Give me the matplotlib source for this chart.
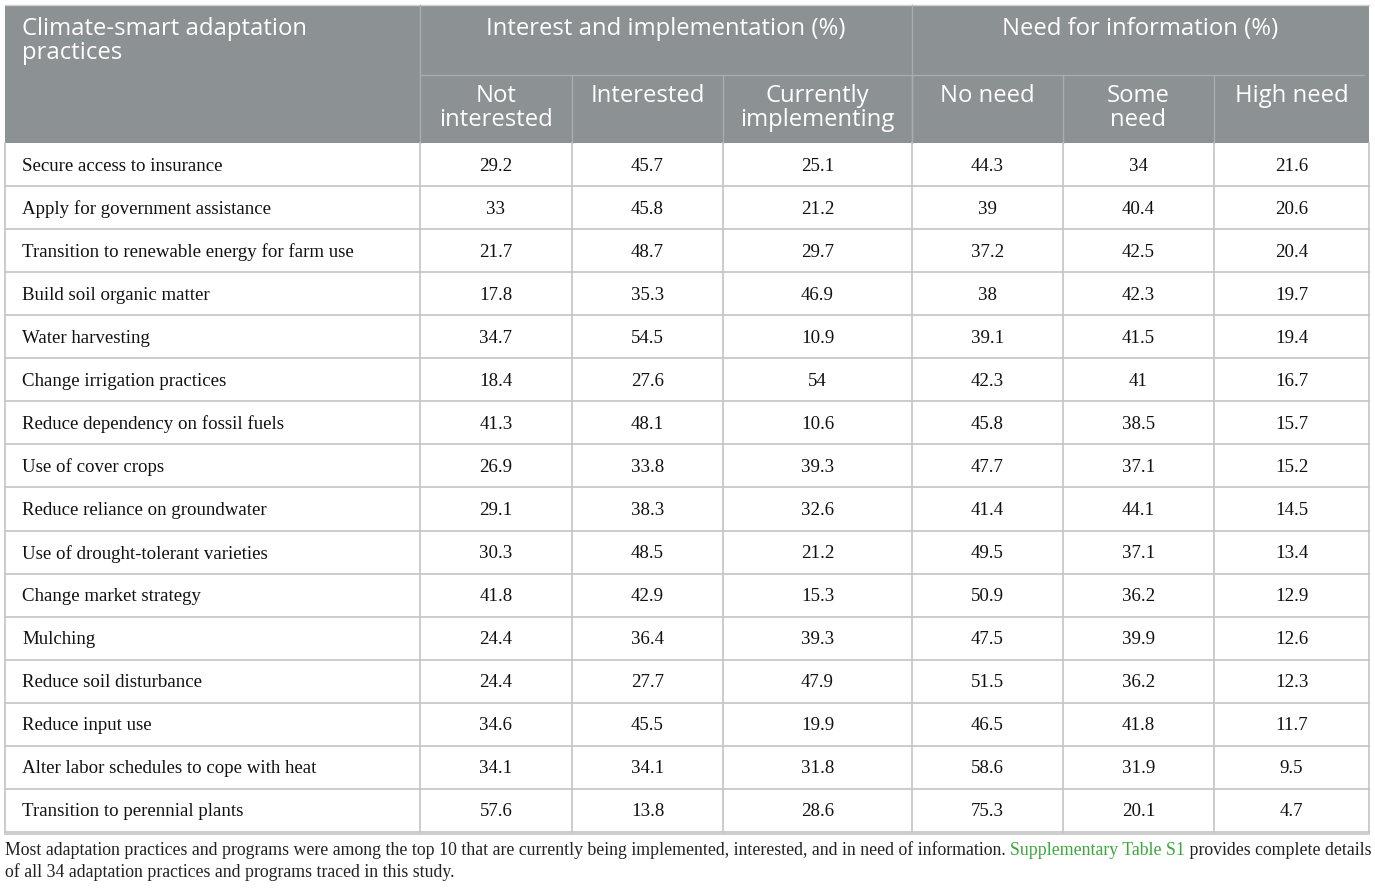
import matplotlib
matplotlib.use("Agg")
import matplotlib.pyplot as plt
from matplotlib.patches import Rectangle

# table content
practices = [
    "Secure access to insurance",
    "Apply for government assistance",
    "Transition to renewable energy for farm use",
    "Build soil organic matter",
    "Water harvesting",
    "Change irrigation practices",
    "Reduce dependency on fossil fuels",
    "Use of cover crops",
    "Reduce reliance on groundwater",
    "Use of drought-tolerant varieties",
    "Change market strategy",
    "Mulching",
    "Reduce soil disturbance",
    "Reduce input use",
    "Alter labor schedules to cope with heat",
    "Transition to perennial plants",
]
not_interested = ["29.2", "33", "21.7", "17.8", "34.7", "18.4", "41.3", "26.9",
                  "29.1", "30.3", "41.8", "24.4", "24.4", "34.6", "34.1", "57.6"]
interested = ["45.7", "45.8", "48.7", "35.3", "54.5", "27.6", "48.1", "33.8",
              "38.3", "48.5", "42.9", "36.4", "27.7", "45.5", "34.1", "13.8"]
implementing = ["25.1", "21.2", "29.7", "46.9", "10.9", "54", "10.6", "39.3",
                "32.6", "21.2", "15.3", "39.3", "47.9", "19.9", "31.8", "28.6"]
no_need = ["44.3", "39", "37.2", "38", "39.1", "42.3", "45.8", "47.7",
           "41.4", "49.5", "50.9", "47.5", "51.5", "46.5", "58.6", "75.3"]
some_need = ["34", "40.4", "42.5", "42.3", "41.5", "41", "38.5", "37.1",
             "44.1", "37.1", "36.2", "39.9", "36.2", "41.8", "31.9", "20.1"]
high_need = ["21.6", "20.6", "20.4", "19.7", "19.4", "16.7", "15.7", "15.2",
             "14.5", "13.4", "12.9", "12.6", "12.3", "11.7", "9.5", "4.7"]

first_header = "Climate-smart adaptation\npractices"
group_headers = ["Interest and implementation (%)", "Need for information (%)"]
sub_headers = ["Not\ninterested", "Interested", "Currently\nimplementing",
               "No need", "Some\nneed", "High need"]
footnote_1 = ("Most adaptation practices and programs were among the top 10 that are "
              "currently being implemented, interested, and in need of information. ")
footnote_link = "Supplementary Table S1"
footnote_2 = " provides complete details"
footnote_3 = "of all 34 adaptation practices and programs traced in this study."

# layout in pixels
col_x = [5, 420, 572, 723, 912, 1063, 1214, 1369]
top, mid, head_bot = 5, 75, 143
row_h = 43.06
header_bg = "#8c9194"
grid = "#c4c4c4"
head_line = "#a9adb0"
sans = ["Open Sans", "DejaVu Sans"]
serif = ["Liberation Serif", "DejaVu Serif"]
head_fs = 17.2
body_fs = 13.6
foot_fs = 12.8


def two_lines(x, y1, text, ha):
    # header cells: each line placed on its own, 24 px apart
    for k, line in enumerate(text.split("\n")):
        ax.text(x, y1 + k * 24, line, ha=ha, va="center", color="white",
                fontsize=head_fs, family=sans)


fig = plt.figure(figsize=(13.75, 8.88), dpi=100)
ax = fig.add_axes([0, 0, 1, 1])
ax.set_xlim(0, 1375)
ax.set_ylim(888, 0)
ax.axis("off")

# header background
ax.add_patch(Rectangle((col_x[0], top), col_x[-1] - col_x[0], head_bot - top,
                       facecolor=header_bg, edgecolor="none"))
ax.plot([col_x[0], col_x[-1]], [top, top], color="#d0d0d0", lw=1)
# header separators
ax.plot([col_x[1], col_x[1]], [top, head_bot], color=head_line, lw=1)
ax.plot([col_x[4], col_x[4]], [top, head_bot], color=head_line, lw=1)
ax.plot([col_x[1], col_x[-1] - 5], [mid, mid], color=head_line, lw=1)
for x in col_x[2:-1]:
    ax.plot([x, x], [mid, head_bot], color=head_line, lw=1)

two_lines(22, 29, first_header, "left")
ax.text((col_x[1] + col_x[4]) / 2, 29, group_headers[0], ha="center", va="center",
        color="white", fontsize=head_fs, family=sans)
ax.text((col_x[4] + col_x[7]) / 2, 29, group_headers[1], ha="center", va="center",
        color="white", fontsize=head_fs, family=sans)
for i, h in enumerate(sub_headers):
    cx = (col_x[i + 1] + col_x[i + 2]) / 2
    two_lines(cx, 96, h, "center")

# body
cols = [not_interested, interested, implementing, no_need, some_need, high_need]
n = len(practices)
bottom = head_bot + n * row_h
for r in range(n):
    yc = head_bot + (r + 0.5) * row_h + 1.5
    ax.text(22, yc, practices[r], ha="left", va="center", fontsize=body_fs,
            family=serif, color="#111111")
    for c, vals in enumerate(cols):
        cx = (col_x[c + 1] + col_x[c + 2]) / 2
        ax.text(cx, yc, vals[r], ha="center", va="center", fontsize=body_fs,
                family=serif, color="#111111")
    y_line = head_bot + (r + 1) * row_h
    ax.plot([col_x[0], col_x[-1]], [y_line, y_line], color=grid, lw=1.2)

for x in col_x:
    ax.plot([x, x], [head_bot, bottom], color=grid, lw=1.2)
ax.plot([col_x[0], col_x[-1]], [bottom + 2, bottom + 2], color=grid, lw=1.2)

# footnote
t1 = ax.text(5, 850, footnote_1, ha="left", va="center", fontsize=foot_fs,
             family=serif, color="#222222")
fig.canvas.draw()
bb = t1.get_window_extent().transformed(ax.transData.inverted())
t2 = ax.text(bb.x1, 850, footnote_link, ha="left", va="center", fontsize=foot_fs,
             family=serif, color="#3aa83a")
fig.canvas.draw()
bb2 = t2.get_window_extent().transformed(ax.transData.inverted())
ax.text(bb2.x1, 850, footnote_2, ha="left", va="center", fontsize=foot_fs,
        family=serif, color="#222222")
ax.text(5, 872, footnote_3, ha="left", va="center", fontsize=foot_fs,
        family=serif, color="#222222")

fig.savefig("out.png", dpi=100, facecolor="white")
